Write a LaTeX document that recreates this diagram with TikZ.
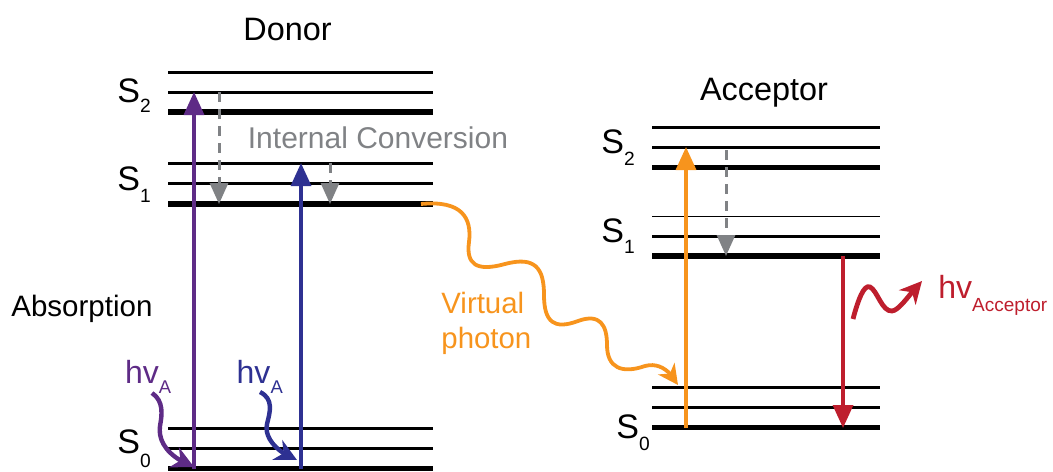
\documentclass[tikz,border=0pt]{standalone}
\usepackage{fontspec}
\setmainfont{Liberation Sans}
\usetikzlibrary{arrows.meta,bending}
\definecolor{cpurple}{HTML}{5E2B86}
\definecolor{cblue}{HTML}{2E3192}
\definecolor{corange}{HTML}{F7941D}
\definecolor{cred}{HTML}{BE1E2D}
\definecolor{cgray}{HTML}{808285}
\newcommand\slab[2]{{\fontsize{17}{17}\selectfont S}\raisebox{-#2}{\fontsize{9.6}{9.6}\selectfont #1}}
\newcommand\hvlab[2]{{\fontsize{16}{16}\selectfont hv}\raisebox{-#2}{\fontsize{9.2}{9.2}\selectfont #1}}
\begin{document}
\begin{tikzpicture}[x=0.5pt,y=-0.5pt,
  lvl/.style={line width=1.5pt,black},
  lvlthick/.style={line width=2.7pt,black},
  lvlthin/.style={line width=0.7pt,black},
  lab/.style={inner sep=0pt,anchor=base west},
  ttl/.style={inner sep=0pt,anchor=base,font=\fontsize{16.2}{16.2}\selectfont},
  vert/.style={line width=1.7pt,-{Triangle[width=10pt,length=11.5pt]}},
  ic/.style={line width=1.5pt,cgray,dash pattern=on 5pt off 3.5pt,-{Triangle[width=9pt,length=10.5pt]}},
  wavy/.style={line width=2.2pt,-{Stealth[length=11pt,width=11pt,inset=3.5pt,flex]}}]
\useasboundingbox (0,0) rectangle (1053,471);
% Donor levels
\draw[lvl] (168,72) -- (433,72);
\draw[lvl] (168,92) -- (433,92);
\draw[lvlthick] (168,112) -- (433,112);
\draw[lvl] (168,163) -- (433,163);
\draw[lvl] (168,183.5) -- (433,183.5);
\draw[lvlthick] (168,204) -- (433,204);
\draw[lvl] (168,428.5) -- (433,428.5);
\draw[lvl] (168,448.5) -- (433,448.5);
\draw[lvlthick] (168,468.5) -- (433,468.5);
% Acceptor levels
\draw[lvl] (652,127) -- (880,127);
\draw[lvl] (652,147.5) -- (880,147.5);
\draw[lvlthick] (652,167.5) -- (880,167.5);
\draw[lvlthin] (652,216.5) -- (880,216.5);
\draw[lvl] (652,236) -- (880,236);
\draw[lvlthick] (652,256) -- (880,256);
\draw[lvl] (652,387) -- (880,387);
\draw[lvl] (652,407.5) -- (880,407.5);
\draw[lvlthick] (652,427.5) -- (880,427.5);
% titles and labels
\node[ttl] (donor) at (287.5,40) {Donor};
\node[ttl] (acceptor) at (764,100) {Acceptor};
\node[lab] (dS2) at (117,102) {\slab{2}{5pt}};
\node[lab] (dS1) at (117,190) {\slab{1}{6pt}};
\node[lab] (dS0) at (117,453) {\slab{0}{7pt}};
\node[lab] (aS2) at (601,153) {\slab{2}{6pt}};
\node[lab] (aS1) at (601,242) {\slab{1}{5.5pt}};
\node[lab] (aS0) at (616,438) {\slab{0}{6pt}};
\node[lab,font=\fontsize{14.75}{14.75}\selectfont] (absorption) at (11,316.7) {Absorption};
\node[lab,text=cgray,font=\fontsize{15}{15}\selectfont] (icon) at (247.5,148) {Internal Conversion};
\node[lab,text=cpurple] (hvp) at (124.7,383.3) {\hvlab{A}{5pt}};
\node[lab,text=cblue] (hvb) at (236.3,383.3) {\hvlab{A}{5pt}};
\node[lab,text=cred] (hvacc) at (938,298.3) {{\fontsize{16}{16}\selectfont hv}\raisebox{-6.5pt}{\fontsize{9.5}{9.5}\selectfont Acceptor}};
\node[lab,text=corange,font=\fontsize{14.7}{14.7}\selectfont] (virt) at (441,313) {Virtual};
\node[lab,text=corange,font=\fontsize{14.7}{14.7}\selectfont] (phot) at (441,348) {photon};
% coordinates for transitions
\coordinate (pA) at (194,469);
\coordinate (pB) at (194,92);
\coordinate (bA) at (301,469);
\coordinate (bB) at (301,163);
\coordinate (g1A) at (219,92);
\coordinate (g1B) at (219,204);
\coordinate (g2A) at (330,163);
\coordinate (g2B) at (330,204);
\coordinate (oA) at (686,428);
\coordinate (oB) at (686,147);
\coordinate (g3A) at (726,150);
\coordinate (g3B) at (726,256);
\coordinate (rA) at (843,256);
\coordinate (rB) at (843,428);
\coordinate (vA) at (421,204);
\coordinate (vB) at (678,385);
\coordinate (wpA) at (152,393);
\coordinate (wpB) at (194,467);
\coordinate (wbA) at (260,392);
\coordinate (wbB) at (297,460);
\coordinate (wrA) at (853,319);
\coordinate (wrB) at (922,281);
% vertical transitions
\draw[vert,cpurple] (pA) -- (pB);
\draw[vert,cblue] (bA) -- (bB);
\draw[ic] (g1A) -- (g1B);
\draw[ic] (g2A) -- (g2B);
\draw[vert,corange] (oA) -- (oB);
\draw[ic] (g3A) -- (g3B);
\draw[vert,cred] (rA) -- (rB);
% wavy photons
\draw[wavy,cpurple] (wpA) .. controls (164,401) and (162,415) .. (160,426)
  .. controls (158,440) and (166,456) .. (wpB);
\draw[wavy,cblue] (wbA) .. controls (274,399) and (270,412) .. (267,424)
  .. controls (264,437) and (276,452) .. (wbB);
\draw[wavy,corange,line width=1.9pt,-{Stealth[length=10pt,width=10pt,inset=3pt,flex]}] (vA) .. controls (462,200) and (472,218) .. (469,242)
  .. controls (466,264) and (476,272) .. (505,264)
  .. controls (535,256) and (544,268) .. (544,295)
  .. controls (544,322) and (554,330) .. (578,321)
  .. controls (600,313) and (607,325) .. (607,345)
  .. controls (607,368) and (622,374) .. (645,366)
  .. controls (660,362) and (671,372) .. (vB);
\draw[wavy,cred,line width=2.4pt] (wrA) .. controls (858,300) and (864,284) .. (870,287)
  .. controls (877,290) and (882,312) .. (892,311)
  .. controls (900,310) and (910,293) .. (wrB);
\end{tikzpicture}
\end{document}
